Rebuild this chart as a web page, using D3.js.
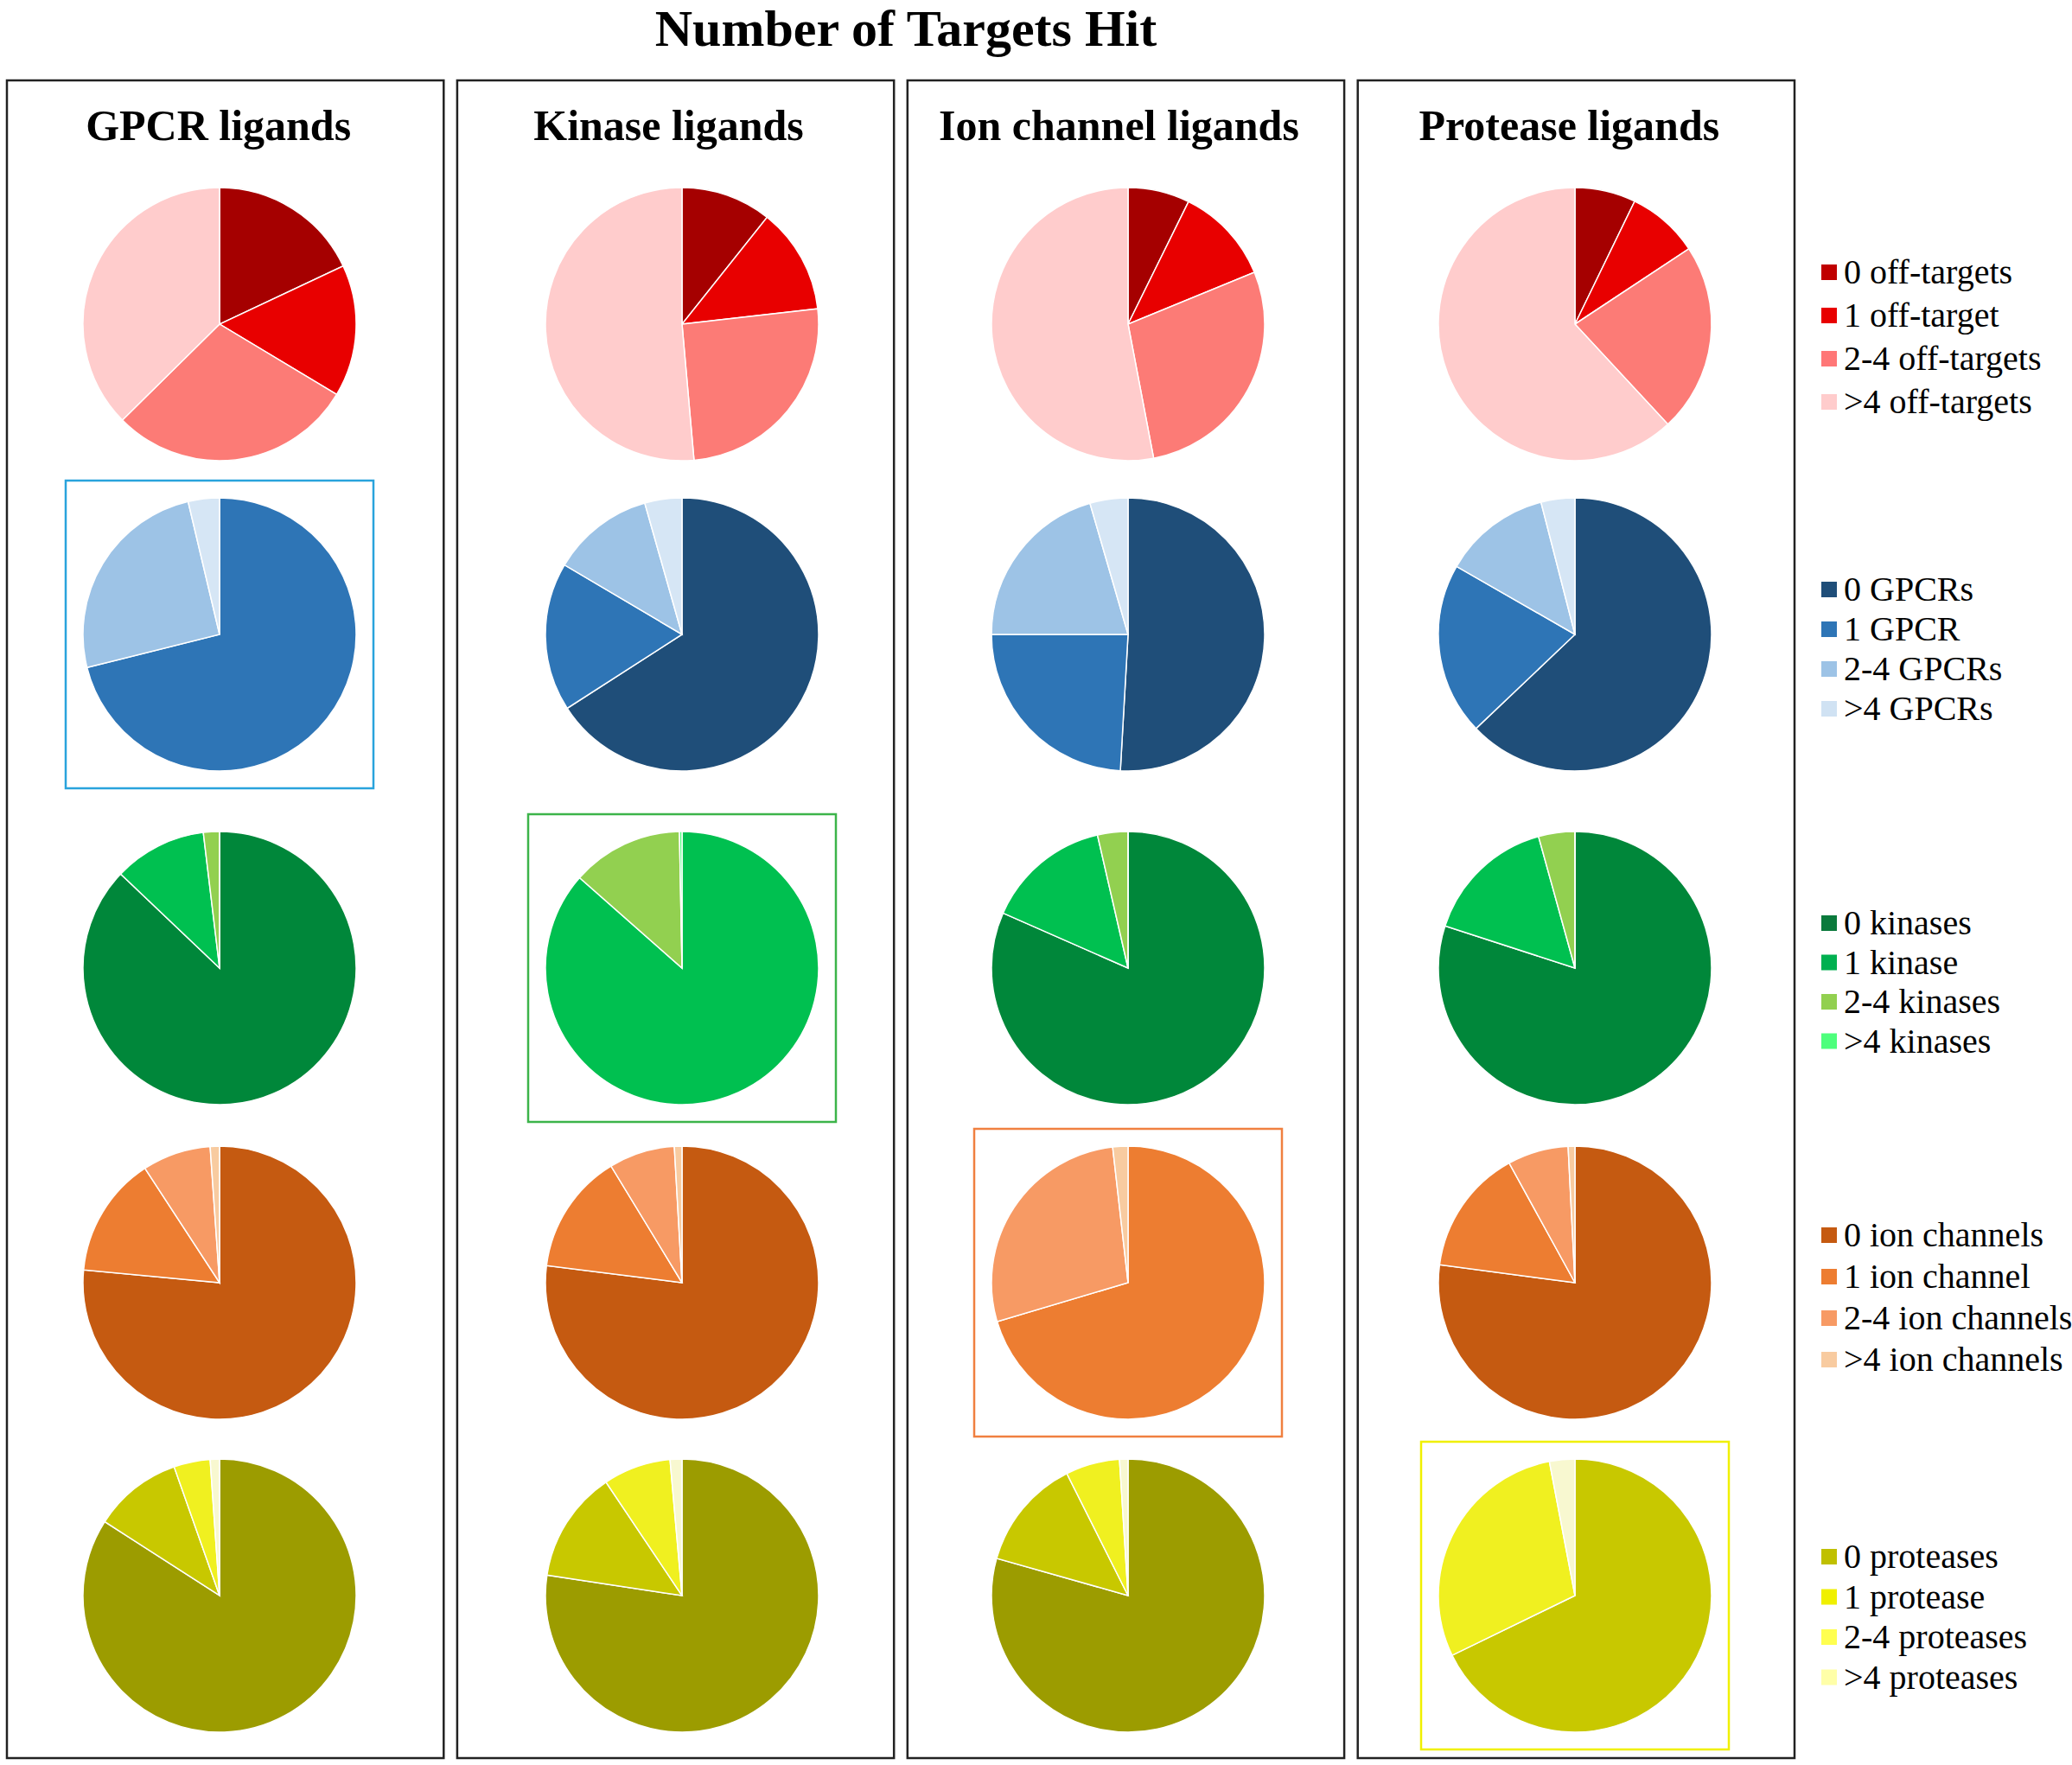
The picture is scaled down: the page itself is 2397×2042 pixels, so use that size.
<!DOCTYPE html>
<html>
<head>
<meta charset="utf-8">
<style>
body { margin: 0; background: #fff; }
svg { display: block; }
.title { font-family: "Liberation Serif", "Times New Roman", serif; font-weight: bold; font-size: 60px; }
.heading { font-family: "Liberation Serif", "Times New Roman", serif; font-weight: bold; font-size: 50px; }
.legend text { font-family: "Liberation Serif", "Times New Roman", serif; font-size: 40px; }
.panel { fill: none; stroke: #222; stroke-width: 2.5; }
</style>
</head>
<body>
<svg id="chart"></svg>
<script src="https://cdnjs.cloudflare.com/ajax/libs/d3/7.8.5/d3.min.js"></script>
<script>
// columns = ligand sets, rows = kind of target counted
var panels = ["GPCR ligands", "Kinase ligands", "Ion channel ligands", "Protease ligands"]
var rows = ["offtarget", "gpcr", "kinase", "ionchannel", "protease"]

// legend labels
var offTargetLabels = ["0 off-targets", "1 off-target", "2-4 off-targets", ">4 off-targets"]
var gpcrLabels = ["0 GPCRs", "1 GPCR", "2-4 GPCRs", ">4 GPCRs"]
var kinaseLabels = ["0 kinases", "1 kinase", "2-4 kinases", ">4 kinases"]
var ionLabels = ["0 ion channels", "1 ion channel", "2-4 ion channels", ">4 ion channels"]
var proteaseLabels = ["0 proteases", "1 protease", "2-4 proteases", ">4 proteases"]

// % of ligands in each bin (0, 1, 2-4, >4), one array per panel
var offTargetShares = [[18.0, 15.6, 29.0, 37.4], [10.7, 12.5, 25.4, 51.4], [7.3, 11.5, 28.2, 53.0], [7.2, 8.5, 22.4, 61.9]]
var gpcrShares = [[0, 71.1, 25.2, 3.7], [65.9, 17.6, 12.1, 4.4], [50.9, 24.1, 20.5, 4.5], [62.9, 20.4, 12.7, 4.0]]
var kinaseShares = [[87.1, 11.0, 1.9, 0], [0, 86.5, 13.2, 0.3], [81.6, 14.8, 3.6, 0], [80.0, 15.7, 4.3, 0]]
var ionShares = [[76.5, 14.3, 8.1, 1.1], [77.0, 14.3, 7.8, 0.9], [0, 70.4, 27.8, 1.8], [77.1, 14.9, 7.2, 0.8]]
var proteaseShares = [[84.1, 10.5, 4.3, 1.1], [77.4, 13.2, 8.0, 1.4], [79.4, 13.2, 6.4, 1.0], [0, 67.8, 29.2, 3.0]]

var pieColors = {
  offtarget: ["#a50000", "#e80000", "#fc7b76", "#ffcccc"],
  gpcr: ["#1f4e79", "#2e75b6", "#9dc3e6", "#d6e6f5"],
  kinase: ["#00873a", "#00c050", "#92d050", "#50ff80"],
  ionchannel: ["#c55a11", "#ed7d31", "#f79a64", "#f8cba0"],
  protease: ["#9c9c00", "#c8c800", "#f0f020", "#f8f8d0"]
}
var legendColors = {
  offtarget: ["#c00000", "#e80000", "#ff7777", "#ffcccc"],
  gpcr: ["#1f4e79", "#2e75b6", "#9dc3e6", "#d0e2f3"],
  kinase: ["#0b7a3c", "#00b050", "#92d050", "#4dff7c"],
  ionchannel: ["#c55a11", "#ed7d31", "#f79a64", "#f8cba0"],
  protease: ["#c0c000", "#f0f000", "#ffff50", "#ffffa8"]
}
var boxColors = ["#29a3dc", "#3cb44a", "#f08040", "#f0f000"]

var shares = {offtarget: offTargetShares, gpcr: gpcrShares, kinase: kinaseShares, ionchannel: ionShares, protease: proteaseShares}
var labels = {offtarget: offTargetLabels, gpcr: gpcrLabels, kinase: kinaseLabels, ionchannel: ionLabels, protease: proteaseLabels}

var width = 2397, height = 2042
var svg = d3.select("#chart").attr("width", width).attr("height", height)

// panel frames
var x = d3.scaleBand().domain(panels).range([8, 2076]).paddingInner(0.03)
// pie centres (rows are not evenly spaced in the original)
var px = d3.scaleOrdinal().domain(panels).range([254, 789, 1305, 1822])
var py = d3.scaleOrdinal().domain(rows).range([375, 734, 1120, 1484, 1846])
var r = 158

svg.append("text")
  .attr("class", "title")
  .attr("x", 1048).attr("y", 53)
  .attr("text-anchor", "middle")
  .text("Number of Targets Hit")

panels.forEach(function (p) {
  svg.append("rect").attr("class", "panel")
    .attr("x", x(p)).attr("y", 93)
    .attr("width", x.bandwidth()).attr("height", 1941)
  svg.append("text").attr("class", "heading")
    .attr("x", x(p) + x.bandwidth() / 2 - 8).attr("y", 162)
    .attr("text-anchor", "middle")
    .text(p)
})

var pie = d3.pie().sort(null).value(function (d) { return d })
var arc = d3.arc().innerRadius(0).outerRadius(r)

rows.forEach(function (row, ri) {
  panels.forEach(function (p, pi) {
    var g = svg.append("g").attr("transform", "translate(" + px(p) + "," + py(row) + ")")
    // diagonal: ligand's own target class gets a frame
    if (ri - 1 === pi) {
      g.append("rect")
        .attr("x", -r - 20).attr("y", -r - 20)
        .attr("width", 2 * r + 40).attr("height", 2 * r + 40)
        .attr("fill", "none").attr("stroke", boxColors[pi]).attr("stroke-width", 2.5)
    }
    g.selectAll("path")
      .data(pie(shares[row][pi]))
      .enter().append("path")
      .attr("d", arc)
      .attr("fill", function (d, i) { return pieColors[row][i] })
      .attr("stroke", "#fff")
      .attr("stroke-width", 1.5)
  })
})

// legends, one per row
var legendTop = {offtarget: 315, gpcr: 682, kinase: 1068, ionchannel: 1429, protease: 1801}
var legendStep = {offtarget: 50, gpcr: 46, kinase: 45.5, ionchannel: 48, protease: 46.5}
rows.forEach(function (row) {
  var lg = svg.append("g").attr("class", "legend")
    .attr("transform", "translate(2107," + legendTop[row] + ")")
  var item = lg.selectAll("g")
    .data(labels[row])
    .enter().append("g")
    .attr("transform", function (d, i) { return "translate(0," + (i * legendStep[row]) + ")" })
  item.append("rect")
    .attr("x", 0).attr("y", -9)
    .attr("width", 18).attr("height", 18)
    .attr("fill", function (d, i) { return legendColors[row][i] })
  item.append("text")
    .attr("x", 26).attr("y", 13)
    .text(function (d) { return d })
})
</script>
</body>
</html>
